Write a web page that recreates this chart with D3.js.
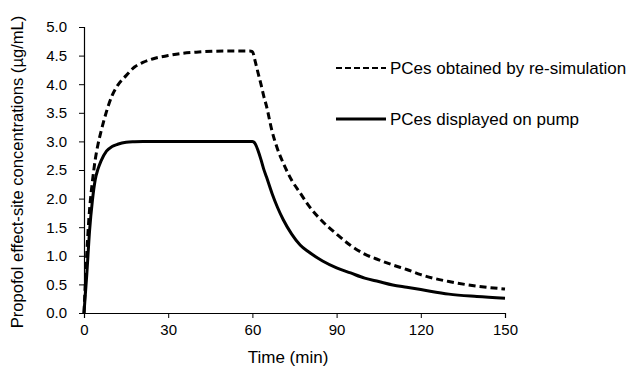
<!DOCTYPE html>
<html lang="en">
<head>
<meta charset="utf-8">
<title>Propofol effect-site concentrations</title>
<style>
  html, body { margin: 0; padding: 0; background: #fff; }
  text { font-family: "Liberation Sans", Arial, sans-serif; fill: #000; }
</style>
</head>
<body>
<div id="chart"></div>
<script src="https://d3js.org/d3.v7.min.js"></script>
<script>
// time points (min)
var times = [0, 1, 2, 3, 4, 5, 6, 8, 10, 12, 15, 18, 21, 25, 30, 35, 40, 50, 59, 60,
  61, 62, 63, 64, 65, 67, 69, 71, 74, 77, 80, 85, 90, 95, 100, 105, 110, 115, 120, 130, 140, 150];

// PCes obtained by re-simulation (dashed)
var resimValues = [0, 1.05, 1.82, 2.3, 2.68, 2.95, 3.16, 3.52, 3.8, 3.98, 4.15, 4.3, 4.38, 4.45, 4.5, 4.54, 4.56, 4.58, 4.58, 4.57,
  4.4, 4.2, 4.01, 3.8, 3.62, 3.18, 2.86, 2.62, 2.32, 2.1, 1.88, 1.6, 1.38, 1.18, 1.03, 0.93, 0.84, 0.76, 0.67, 0.55, 0.47, 0.42];

// PCes displayed on pump (solid)
var pumpValues = [0, 0.68, 1.45, 1.97, 2.33, 2.52, 2.65, 2.83, 2.91, 2.95, 2.985, 2.995, 3.0, 3.0, 3.0, 3.0, 3.0, 3.0, 3.0, 3.0,
  2.96, 2.84, 2.69, 2.52, 2.38, 2.09, 1.84, 1.63, 1.38, 1.19, 1.07, 0.91, 0.79, 0.7, 0.61, 0.55, 0.49, 0.45, 0.41, 0.33, 0.29, 0.26];

var xTicks = [0, 30, 60, 90, 120, 150];
var yTicks = [0, 0.5, 1, 1.5, 2, 2.5, 3, 3.5, 4, 4.5, 5];

var seriesNames = ["PCes obtained by re-simulation", "PCes displayed on pump"];

var width = 628, height = 372;

var svg = d3.select("#chart")
  .append("svg")
  .attr("width", width)
  .attr("height", height);

var x = d3.scaleLinear().domain([0, 150]).range([84, 505]);
var y = d3.scaleLinear().domain([0, 5]).range([313, 27]);

// axes
var xAxis = svg.append("g")
  .attr("transform", "translate(0," + y(0) + ")")
  .call(d3.axisBottom(x).tickValues(xTicks).tickSize(5).tickPadding(6).tickFormat(d3.format("d")));

var yAxis = svg.append("g")
  .attr("transform", "translate(" + x(0) + ",0)")
  .call(d3.axisLeft(y).tickValues(yTicks).tickSize(5).tickPadding(12).tickFormat(d3.format(".1f")));

[xAxis, yAxis].forEach(function (ax) {
  ax.select(".domain").attr("stroke", "#000").attr("stroke-width", 1.2);
  ax.selectAll(".tick line").attr("stroke", "#000");
  ax.selectAll(".tick text")
    .style("font-family", '"Liberation Sans", Arial, sans-serif')
    .style("font-size", "15px")
    .attr("fill", "#000");
});

// lines
var line = d3.line()
  .x(function (d) { return x(d[0]); })
  .y(function (d) { return y(d[1]); })
  .curve(d3.curveMonotoneX);

svg.append("path")
  .datum(times.map(function (t, i) { return [t, resimValues[i]]; }))
  .attr("fill", "none")
  .attr("stroke", "#000")
  .attr("stroke-width", 3)
  .attr("stroke-dasharray", "7,4")
  .attr("d", line);

svg.append("path")
  .datum(times.map(function (t, i) { return [t, pumpValues[i]]; }))
  .attr("fill", "none")
  .attr("stroke", "#000")
  .attr("stroke-width", 3)
  .attr("d", line);

// axis titles
svg.append("text")
  .attr("x", 288)
  .attr("y", 363)
  .attr("text-anchor", "middle")
  .style("font-size", "17px")
  .text("Time (min)");

svg.append("text")
  .attr("transform", "translate(23," + ((y(0) + y(5)) / 2 + 2) + ") rotate(-90)")
  .attr("text-anchor", "middle")
  .style("font-size", "16.6px")
  .text("Propofol effect-site concentrations (\u00b5g/mL)");

// legend
var legend = svg.append("g");
seriesNames.forEach(function (name, i) {
  var ly = i === 0 ? 68 : 119;
  legend.append("line")
    .attr("x1", 336).attr("x2", 386)
    .attr("y1", ly).attr("y2", ly)
    .attr("stroke", "#000")
    .attr("stroke-width", i === 0 ? 2 : 3)
    .attr("stroke-dasharray", i === 0 ? "6,3" : null);
  legend.append("text")
    .attr("x", 390)
    .attr("y", ly + 6)
    .style("font-size", "17px")
    .text(name);
});
</script>
</body>
</html>
